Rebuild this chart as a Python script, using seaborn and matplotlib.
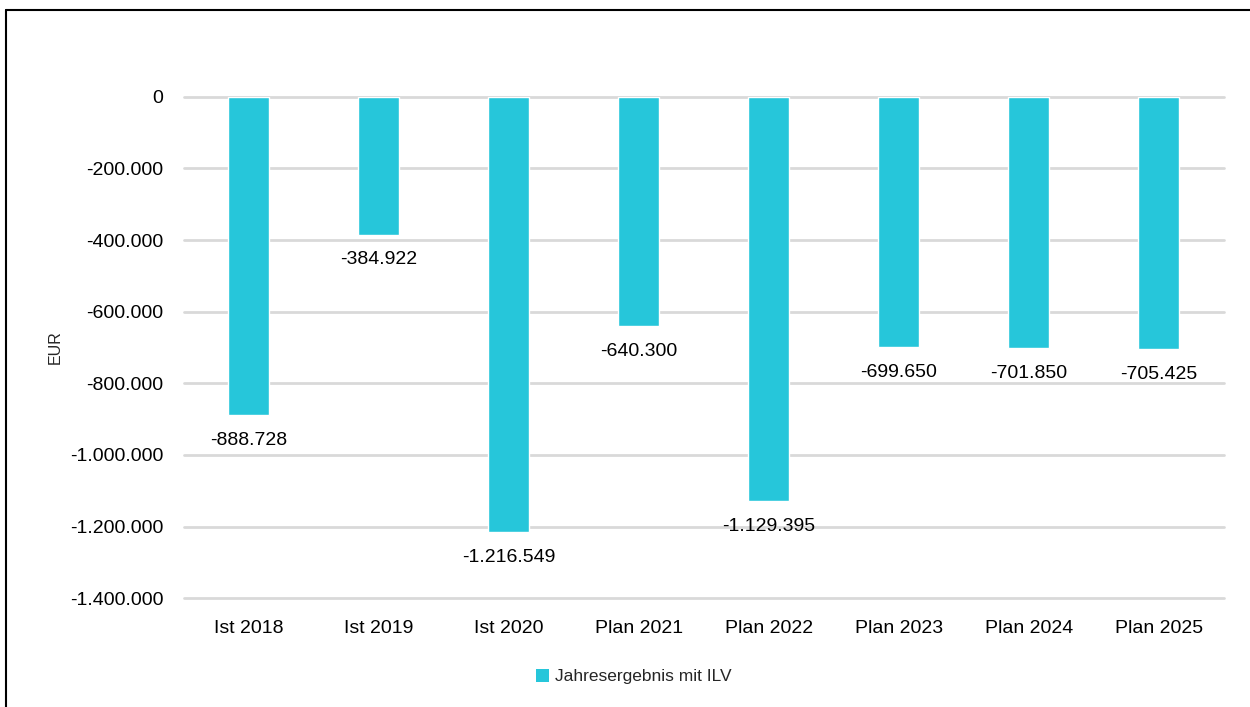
#!/usr/bin/env python3
"""Jahresergebnis mit ILV - Balkendiagramm (Ist/Plan) mit seaborn."""

import matplotlib
matplotlib.use("Agg")
import matplotlib.pyplot as plt
import seaborn as sns
import pandas as pd
from matplotlib.lines import Line2D
from matplotlib.patches import Patch

# ----- Daten -----
KATEGORIEN = ["Ist 2018", "Ist 2019", "Ist 2020", "Plan 2021",
              "Plan 2022", "Plan 2023", "Plan 2024", "Plan 2025"]
WERTE = [-888728, -384922, -1216549, -640300,
         -1129395, -699650, -701850, -705425]
SERIE = "Jahresergebnis mit ILV"
Y_TICKS = [0, -200000, -400000, -600000, -800000, -1000000, -1200000, -1400000]

FARBE = "#26c6da"
GITTER = "#d9d9d9"


def format_de(v: float) -> str:
    """Zahl mit Punkt als Tausendertrennzeichen (deutsches Format)."""
    return f"{int(round(v)):,}".replace(",", ".")


def main() -> None:
    sns.set_theme(style="white")
    plt.rcParams["font.family"] = ["Liberation Sans", "DejaVu Sans"]

    df = pd.DataFrame({"kategorie": KATEGORIEN, "wert": WERTE})

    fig = plt.figure(figsize=(12.5, 7.07), dpi=100)
    ax = fig.add_axes([0.147, 0.154, 0.832, 0.709])

    sns.barplot(data=df, x="kategorie", y="wert", color=FARBE,
                width=0.315, saturation=1, ax=ax, zorder=3)

    ax.set_ylim(-1400000, 0)
    ax.set_xlim(-0.5, len(KATEGORIEN) - 0.5)
    ax.set_yticks(Y_TICKS)
    ax.set_yticklabels([format_de(t) for t in Y_TICKS])
    ax.yaxis.grid(True, color=GITTER, linewidth=2, zorder=0)
    for gl in ax.get_ygridlines():
        gl.set_clip_on(False)
    ax.set_axisbelow(True)
    for s in ax.spines.values():
        s.set_visible(False)
    ax.tick_params(axis="both", length=0, labelsize=14, colors="black")
    ax.tick_params(axis="y", pad=14.5)
    ax.tick_params(axis="x", pad=16)
    ax.set_xlabel("")
    ax.set_ylabel("EUR", fontsize=11.5, labelpad=5)

    # Datenbeschriftungen unterhalb der Balken
    for patch, wert in zip(ax.patches, WERTE):
        x = patch.get_x() + patch.get_width() / 2
        ax.annotate(format_de(wert), (x, wert), xytext=(0, -12),
                    textcoords="offset points", ha="center", va="top",
                    fontsize=14, color="black", annotation_clip=False)

    # Legende
    handle = Patch(facecolor=FARBE, edgecolor="none", label=SERIE)
    fig.legend(handles=[handle], loc="center", bbox_to_anchor=(0.507, 0.043),
               frameon=False, fontsize=12.5, handlelength=0.75, handleheight=0.75,
               handletextpad=0.3)

    # Rahmen (oben und links sichtbar)
    fig.add_artist(Line2D([0.005, 1.0], [0.986, 0.986], color="black",
                          linewidth=1.5, transform=fig.transFigure))
    fig.add_artist(Line2D([0.005, 0.005], [0.0, 0.986], color="black",
                          linewidth=1.5, transform=fig.transFigure))

    fig.savefig("out.png", dpi=100)
    plt.close(fig)


if __name__ == "__main__":
    main()
